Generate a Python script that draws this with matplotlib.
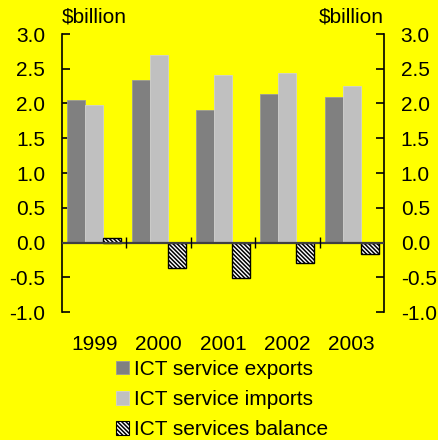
import matplotlib
matplotlib.use("Agg")
import matplotlib.pyplot as plt
import matplotlib.patches as mpatches
from matplotlib.transforms import blended_transform_factory
import numpy as np

years = ["1999", "2000", "2001", "2002", "2003"]
exports = [2.05, 2.34, 1.90, 2.14, 2.09]
imports = [1.98, 2.70, 2.41, 2.44, 2.25]
balance = [0.07, -0.36, -0.51, -0.30, -0.16]
y_ticks = [-1.0, -0.5, 0.0, 0.5, 1.0, 1.5, 2.0, 2.5, 3.0]
unit_label = "$billion"
legend_labels = ["ICT service exports", "ICT service imports", "ICT services balance"]

BG = "#ffff00"
plt.rcParams["font.family"] = ["Liberation Sans", "DejaVu Sans"]
plt.rcParams["hatch.linewidth"] = 1.1
FS = 15
HATCH = "\\" * 8

fig = plt.figure(figsize=(4.38, 4.40), dpi=100, facecolor=BG)
ax = fig.add_axes([62 / 438, 1 - 312 / 440, 322 / 438, 278 / 440], facecolor=BG)

x = np.arange(len(years))
w = 0.28
ax.bar(x - w, exports, w, color="#808080", edgecolor="#9a9a9a", linewidth=0.6, zorder=2)
ax.bar(x, imports, w, color="#c0c0c0", edgecolor="#d0d0d0", linewidth=0.6, zorder=2)
ax.bar(x + w, balance, w, color="white", edgecolor="black", hatch=HATCH,
       linewidth=1.0, zorder=2)

ax.set_xlim(-0.5, len(years) - 0.5)
ax.set_ylim(-1.0, 3.0)

# zero line with group separators
ax.axhline(0, color="#404040", linewidth=1.6, zorder=3)
seps = x[:-1] + 0.5
ax.vlines(seps, -0.08, 0.08, color="black", linewidth=1.0, zorder=3)

for s in ["top", "bottom"]:
    ax.spines[s].set_visible(False)
for s in ["left", "right"]:
    ax.spines[s].set_linewidth(1.2)
ax.set_xticks([])
ax.set_yticks(y_ticks)
ax.set_yticklabels([f"{v:.1f}" for v in y_ticks], fontsize=FS)
ax.tick_params(axis="y", direction="in", length=6, width=1.2, pad=12,
               left=True, right=True, labelleft=True, labelright=True)

tr = blended_transform_factory(ax.transData, ax.transAxes)
for xi, yr in zip(x, years):
    ax.annotate(yr, (xi, 0), xycoords=tr, xytext=(0, -27), textcoords="offset points",
                ha="center", va="baseline", fontsize=FS)

ax.annotate(unit_label, (0, 1), xycoords="axes fraction", xytext=(0, 8),
            textcoords="offset points", ha="left", va="baseline", fontsize=FS)
ax.annotate(unit_label, (1, 1), xycoords="axes fraction", xytext=(0, 8),
            textcoords="offset points", ha="right", va="baseline", fontsize=FS)

handles = [
    mpatches.Patch(facecolor="#808080", edgecolor="#9a9a9a", linewidth=0.6),
    mpatches.Patch(facecolor="#c0c0c0", edgecolor="#d0d0d0", linewidth=0.6),
    mpatches.Patch(facecolor="white", edgecolor="black", hatch=HATCH, linewidth=0.8),
]
fig.legend(handles, legend_labels, loc="upper left", bbox_to_anchor=(116 / 438, 1 - 360 / 440),
           frameon=False, fontsize=FS, handlelength=0.63, handleheight=0.63,
           handletextpad=0.25, labelspacing=0.53, borderpad=0, borderaxespad=0)

fig.savefig("out.png", dpi=100, facecolor=BG)
